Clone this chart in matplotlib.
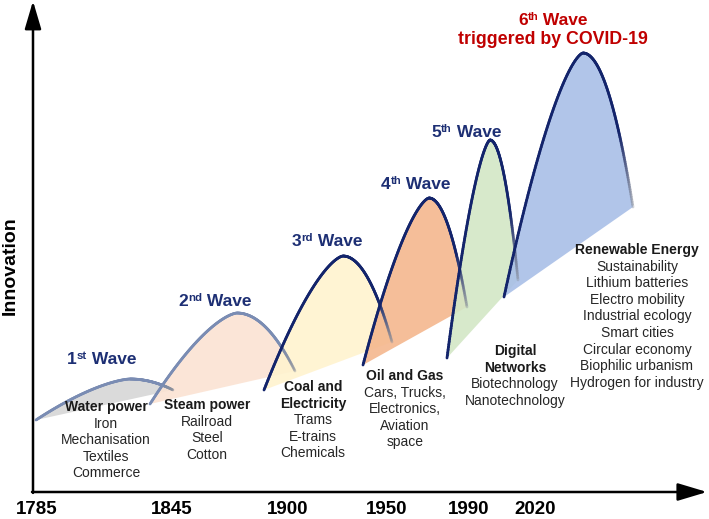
import numpy as np
import matplotlib.pyplot as plt
from matplotlib.collections import LineCollection
from matplotlib.colors import to_rgba

plt.rcParams['font.family'] = ['Liberation Sans', 'DejaVu Sans']

# Kondratiev waves: position on the time axis and innovation level
wave_num = ['1', '2', '3', '4', '5', '6']
wave_sup = ['st', 'nd', 'rd', 'th', 'th', 'th']
start_x = [36, 150, 264, 363, 447, 504]
start_y = [72, 88, 102, 127, 134, 195]
peak_x = [130, 237, 343, 429, 490, 583]
peak_y = [113, 179, 236, 294, 352, 439]
end_x = [173, 295, 392, 467, 518, 633]
end_y = [102, 121, 150, 185, 212, 285]

years = ['1785', '1845', '1900', '1950', '1990', '2020']
year_pos = [37, 172, 288, 387, 469, 535]

era_heads = [['Water power'], ['Steam power'], ['Coal and', 'Electricity'],
             ['Oil and Gas'], ['Digital', 'Networks'], ['Renewable Energy']]
era_items = [['Iron', 'Mechanisation', 'Textiles', 'Commerce'],
             ['Railroad', 'Steel', 'Cotton'],
             ['Trams', 'E-trains', 'Chemicals'],
             ['Cars, Trucks,', 'Electronics,', 'Aviation', 'space'],
             ['Biotechnology', 'Nanotechnology'],
             ['Sustainability', 'Lithium batteries', 'Electro mobility',
              'Industrial ecology', 'Smart cities', 'Circular economy',
              'Biophilic urbanism', 'Hydrogen for industry']]

# layout / style
fill_colors = ['#d6d6d6', '#fbe3d3', '#fff3cf', '#f4b78e', '#d3e7c6', '#a9bfe7']
line_colors = ['#7a8cb3', '#7a8cb3', '#13246b', '#13246b', '#13246b', '#13246b']
navy = '#1d2f74'
red = '#c00000'
label_pos = [(102, 134), (215, 192), (327, 252), (416, 309), (466, 361), (553, 473)]
era_x = [106, 207, 313, 405, 515, 637]
era_top = [85, 87, 105, 116, 141, 242]
line_step = 16.6


def wave_curve(sx, sy, px, py, ex, ey, n=120):
    t = np.linspace(0, 1, n)
    lx = sx + t * (px - sx)
    ly = sy + (py - sy) * (1 - (1 - t) ** 1.5)
    rx = px + t[1:] * (ex - px)
    ry = py - (py - ey) * t[1:] ** 2
    return np.r_[lx, rx], np.r_[ly, ry], n


fig = plt.figure(figsize=(7.09, 5.19), dpi=100)
ax = fig.add_axes([0, 0, 1, 1])
ax.set_xlim(0, 709)
ax.set_ylim(-27, 492)
ax.axis('off')
renderer = fig.canvas.get_renderer()

curves = []
for i in range(len(start_x)):
    x, y, n = wave_curve(start_x[i], start_y[i], peak_x[i], peak_y[i], end_x[i], end_y[i])
    curves.append((x, y, n))
    ax.fill(np.r_[x, start_x[i]], np.r_[y, start_y[i]], color=fill_colors[i],
            alpha=0.9, lw=0, zorder=1 + i * 0.1)

# wave lines, faded towards the end of the downswing
for i, (x, y, n) in enumerate(curves):
    pts = np.column_stack([x, y])
    segs = np.stack([pts[:-1], pts[1:]], axis=1)
    base = np.array(to_rgba(line_colors[i]))
    grey = np.array(to_rgba('#8a8f9a'))
    cols = np.tile(base, (len(segs), 1))
    fade_from = n - 1 + int((n - 1) * 0.72)
    for k in range(fade_from, len(segs)):
        f = (k - fade_from) / max(1, len(segs) - fade_from)
        c = base * (1 - f) + grey * f
        c[3] = 1 - 0.65 * f
        cols[k] = c
    lc = LineCollection(segs, colors=cols, linewidths=2.0, capstyle='round', zorder=3)
    ax.add_collection(lc)

# axes arrows
ax.annotate('', xy=(707, 0), xytext=(32, 0),
            arrowprops=dict(arrowstyle='-|>,head_length=1.0,head_width=0.3', lw=1.8,
                            color='black', mutation_scale=18, shrinkA=0, shrinkB=0))
ax.annotate('', xy=(33, 491), xytext=(33, -0.9),
            arrowprops=dict(arrowstyle='-|>,head_length=0.95,head_width=0.28', lw=1.8,
                            color='black', mutation_scale=18, shrinkA=0, shrinkB=0))

ax.text(10, 226, 'Innovation', rotation=90, ha='center', va='center',
        fontsize=14, fontweight='bold', color='black')

for yr, xp in zip(years, year_pos):
    ax.text(xp, -18, yr, ha='center', va='center', fontsize=13.5,
            fontweight='bold', color='black')


def text_width(s, size):
    t = ax.text(0, 0, s, fontsize=size, fontweight='bold')
    w = t.get_window_extent(renderer).width
    t.remove()
    return w


# wave labels with superscript ordinals (1 data unit = 1 pixel)
main_size, sup_size = 12.5, 8.2
for i in range(len(wave_num)):
    col = red if i == 5 else navy
    parts = [wave_num[i], wave_sup[i], ' Wave']
    widths = [text_width(parts[0], main_size), text_width(parts[1], sup_size),
              text_width(parts[2], main_size)]
    gap = 0.0
    x0 = label_pos[i][0] - (sum(widths) + gap) / 2
    base_y = label_pos[i][1] - 6.2
    ax.text(x0, base_y, parts[0], ha='left', va='baseline', fontsize=main_size,
            fontweight='bold', color=col, zorder=5)
    ax.text(x0 + widths[0] + gap, base_y + 5.0, parts[1], ha='left', va='baseline',
            fontsize=sup_size, fontweight='bold', color=col, zorder=5)
    ax.text(x0 + widths[0] + widths[1] + gap, base_y, parts[2], ha='left', va='baseline',
            fontsize=main_size, fontweight='bold', color=col, zorder=5)
ax.text(553, 453, 'triggered by COVID-19', ha='center', va='center',
        fontsize=12.8, fontweight='bold', color=red, zorder=5)

for i in range(len(era_heads)):
    yy = era_top[i]
    for h in era_heads[i]:
        ax.text(era_x[i], yy, h, ha='center', va='center', fontsize=10,
                fontweight='bold', color='#1a1a1a', zorder=5)
        yy -= line_step
    for it in era_items[i]:
        ax.text(era_x[i], yy, it, ha='center', va='center', fontsize=10,
                color='#262626', zorder=5)
        yy -= line_step

fig.savefig('out.png', dpi=100)
